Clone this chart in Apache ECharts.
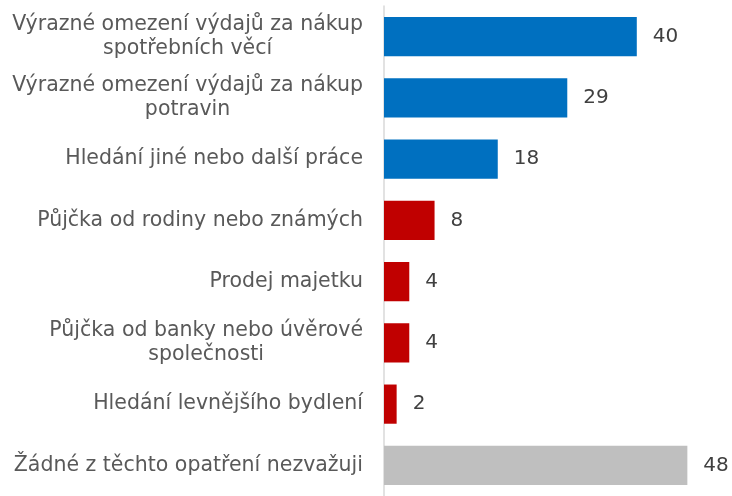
<!DOCTYPE html>
<html>
<head>
<meta charset="utf-8">
<script src="https://cdn.jsdelivr.net/npm/echarts@6/dist/echarts.min.js"></script>
<style>
html,body{margin:0;padding:0;background:#fff;}
#chart{width:732px;height:496px;}
</style>
</head>
<body>
<div id="chart"></div>
<script>
var categories = [
  'Výrazné omezení výdajů za nákup\nspotřebních věcí',
  'Výrazné omezení výdajů za nákup\npotravin',
  'Hledání jiné nebo další práce',
  'Půjčka od rodiny nebo známých',
  'Prodej majetku',
  'Půjčka od banky nebo úvěrové\nspolečnosti',
  'Hledání levnějšího bydlení',
  'Žádné z těchto opatření nezvažuji'
];
var values = [40, 29, 18, 8, 4, 4, 2, 48];

var barColors = ['#0070C0', '#0070C0', '#0070C0', '#C00000', '#C00000', '#C00000', '#C00000', '#BFBFBF'];
var FONT = 'DejaVu Sans';

var chart = echarts.init(document.getElementById('chart'), null, {renderer: 'canvas'});
chart.setOption({
  animation: false,
  grid: {left: 384, right: 32, top: 6, bottom: 0, containLabel: false},
  xAxis: {
    type: 'value', min: 0, max: 50,
    show: false
  },
  yAxis: {
    type: 'category',
    data: categories,
    inverse: true,
    axisLine: {show: true, lineStyle: {color: '#D9D9D9', width: 1.5}},
    axisTick: {show: false},
    axisLabel: {
      margin: 21,
      align: 'right',
      color: '#595959',
      fontFamily: FONT,
      fontSize: 20.5,
      lineHeight: 24,
      formatter: function (v) {
        return v.split('\n').map(function (s) { return '{c|' + s + '}'; }).join('\n');
      },
      rich: {
        c: {align: 'center', color: '#595959', fontFamily: FONT, fontSize: 20.5, lineHeight: 24}
      }
    }
  },
  series: [{
    type: 'bar',
    data: values,
    barCategoryGap: '36%',
    itemStyle: {
      color: function (p) { return barColors[p.dataIndex]; }
    },
    label: {
      show: true,
      position: 'right',
      distance: 16,
      color: '#404040',
      fontFamily: FONT,
      fontSize: 20
    }
  }]
});
</script>
</body>
</html>
